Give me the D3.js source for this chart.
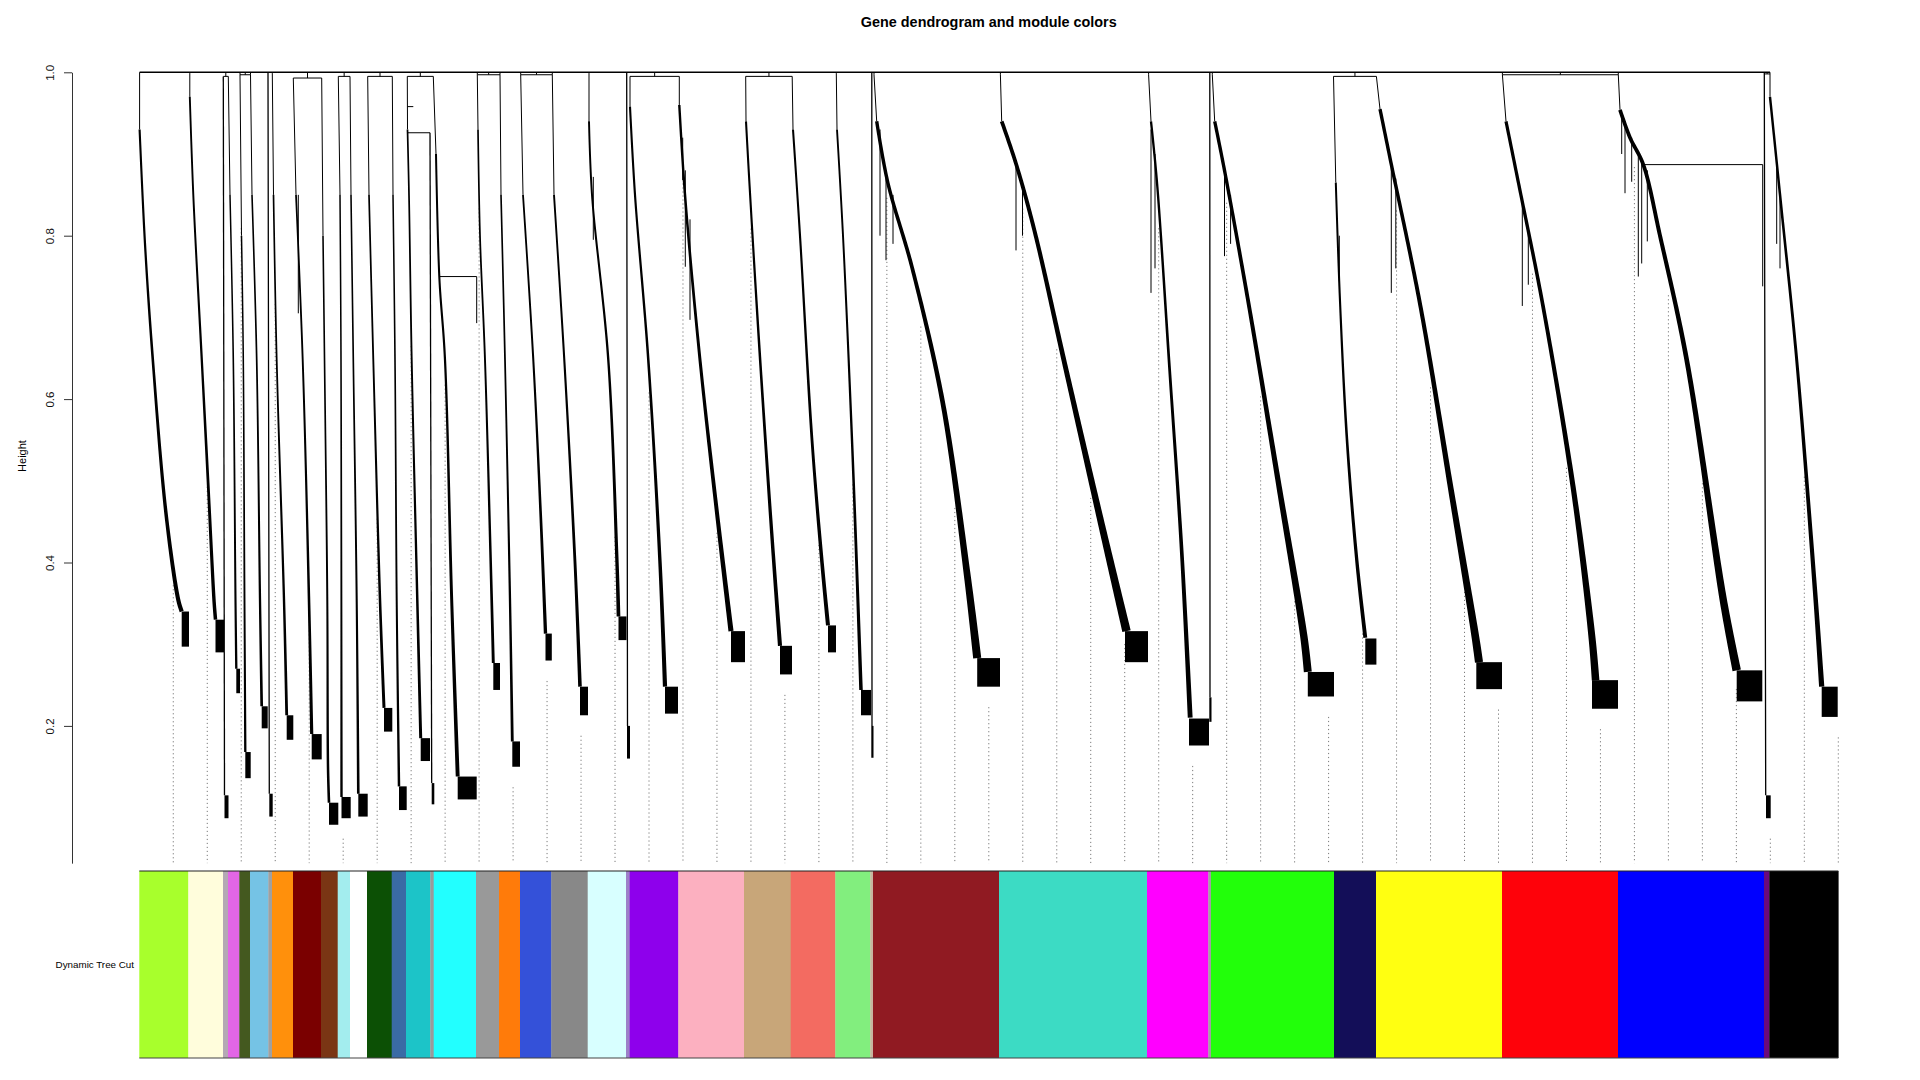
<!DOCTYPE html>
<html><head><meta charset="utf-8">
<script src="https://cdn.jsdelivr.net/npm/d3@7"></script>
<style>html,body{margin:0;padding:0;background:#fff;}svg{display:block;}</style>
</head><body>
<svg id="chart" width="1920" height="1080"></svg>
<script>
// ---------------- DATA (leaf positions in dendrogram order units 0..1699, heights 0..1) ----------------
const moduleNames = ["greenyellow","lightyellow","grey","violet","darkolivegreen","skyblue","grey","darkorange","darkred","saddlebrown",
  "paleturquoise","white","darkgreen","steelblue","darkturquoise","grey","cyan","grey60","orange","royalblue",
  "darkgrey","lightcyan","grey","purple","pink","tan","salmon","lightgreen","grey","brown",
  "turquoise","magenta","grey","green","midnightblue","yellow","red","blue","darkmagenta","black"];
const moduleColors = ["#A8FF2C","#FFFDDC","#B4A8B4","#E266E6","#44591F","#75C3E5","#A0A0A0","#FF900C","#7A0000","#7A3514",
  "#A3EDEE","#FFFFFF","#0C5005","#3A6BA5","#1CC4C8","#9A9A9A","#22FFFF","#999999","#FF7B0A","#3451D9",
  "#888888","#D8FFFF","#9C80C8","#8E00EC","#FCB0C0","#C8A679","#F36B61","#82EE7E","#C8B4A0","#901A22",
  "#3CDBC4","#FF00FF","#A0A0A0","#22FF0A","#130E58","#FFFF11","#FE020A","#0000FF","#6C0A7C","#000000"];
const moduleSizes = [49,34.7,5,11.3,10.7,18.3,3.7,21,28,16.7,
  12.3,17,24.7,14.3,24.3,3.4,42.3,23,21,31.3,
  36.4,38.3,3.7,48.6,65.7,46.7,44.6,35,2.7,126,
  148,61.3,2.7,123,42,126,116,146,5.3,69];

// Branch of each module: [leaf position, merge height] from its join down to its dense core
const branchPaths = [
  [[0.3,1.0],[0.3,0.93],[5.7,0.79],[13.4,0.65],[26.7,0.46],[39,0.354],[42.4,0.34]],
  [[50.5,0.999],[50.5,0.97],[54,0.85],[62.4,0.65],[68.7,0.5],[74.7,0.354],[76.2,0.33]],
  [[84,0.995],[85.2,0.115]],
  [[89,0.995],[90.7,0.85],[94,0.648],[96.2,0.354],[97,0.27]],
  [[100.7,0.997],[102.2,0.8],[104,0.648],[105.2,0.354],[106,0.168]],
  [[111.2,0.997],[112.7,0.85],[117.4,0.648],[120.7,0.354],[122.4,0.224]],
  [[128.7,0.999],[130,0.117]],
  [[133,0.999],[134.2,0.85],[137.4,0.648],[144.7,0.354],[147.4,0.213]],
  [[154,0.993],[156.7,0.85],[163.4,0.648],[169.7,0.354],[172.4,0.19]],
  [[182.4,0.993],[183.7,0.8],[185.7,0.6],[188,0.354],[188.7,0.15],[189.7,0.106]],
  [[199,0.995],[200.7,0.85],[201.7,0.648],[202.2,0.113]],
  [[210.7,0.995],[211.7,0.85],[214,0.648],[217.4,0.354],[219,0.117]],
  [[228.4,0.995],[229.7,0.85],[234,0.648],[240.7,0.354],[244.7,0.222]],
  [[253,0.995],[253.7,0.85],[255.7,0.648],[257.4,0.354],[259.7,0.126]],
  [[268,0.995],[268.2,0.93],[269.7,0.85],[272.4,0.648],[278,0.354],[281.4,0.185]],
  [[290.7,0.926],[292.4,0.13]],
  [[294,0.995],[296.7,0.9],[300,0.75],[305.7,0.648],[312.4,0.354],[318.4,0.138]],
  [[338,0.997],[338.7,0.93],[340.7,0.8],[345.7,0.648],[352.4,0.354],[354,0.277]],
  [[360.7,0.997],[361.7,0.85],[365.7,0.648],[370.7,0.354],[373,0.181]],
  [[381.4,0.997],[383.7,0.85],[394,0.648],[401.7,0.45],[406.2,0.313]],
  [[413,0.997],[414.7,0.85],[425,0.648],[435.7,0.4],[440.7,0.248]],
  [[449.7,0.999],[449.7,0.94],[452.7,0.85],[469,0.648],[477.7,0.4],[479.2,0.334]],
  [[487.4,0.999],[488.2,0.2]],
  [[490.7,0.995],[490.7,0.958],[495.7,0.85],[509,0.648],[520.7,0.4],[525.7,0.248]],
  [[540,0.995],[540,0.96],[545.7,0.85],[560.7,0.648],[578.7,0.45],[591.7,0.316]],
  [[606.4,0.995],[606.7,0.94],[610.1,0.865],[619.7,0.67],[632.2,0.44],[640.7,0.298]],
  [[652.9,0.995],[653.7,0.93],[660.7,0.8],[672.7,0.55],[682.7,0.4],[688.7,0.323]],
  [[697,0.999],[697.7,0.93],[703.7,0.8],[712.7,0.55],[718.7,0.35],[721.7,0.244]],
  [[732.5,0.999],[732.7,0.2]],
  [[734.7,0.997],[737.4,0.94],[748.5,0.865],[773,0.76],[803.7,0.594],[828.1,0.383],[837.9,0.283]],
  [[861.1,0.997],[862.4,0.94],[877,0.887],[895.4,0.805],[926,0.64],[962.7,0.444],[987.2,0.316]],
  [[1009.3,0.997],[1011.7,0.94],[1017.7,0.865],[1030.1,0.64],[1042.4,0.414],[1050.9,0.21]],
  [[1070.5,0.997],[1070.7,0.235]],
  [[1073,0.997],[1075.4,0.94],[1085.2,0.88],[1109.7,0.714],[1140.3,0.489],[1164.7,0.308],[1168.5,0.266]],
  [[1194.2,0.995],[1196.5,0.865],[1200.7,0.72],[1207.7,0.55],[1217.7,0.4],[1226,0.308]],
  [[1237.1,0.995],[1240.7,0.955],[1250.7,0.895],[1281.1,0.714],[1311.7,0.489],[1336.2,0.308],[1339.7,0.278]],
  [[1363.1,0.997],[1366.7,0.94],[1379.1,0.865],[1403.7,0.714],[1434.2,0.489],[1452.7,0.308],[1456.3,0.256]],
  [[1479,0.997],[1480.7,0.954],[1490.7,0.92],[1504,0.887],[1520.7,0.8],[1547.4,0.648],[1584,0.354],[1597.4,0.268]],
  [[1625,0.998],[1626.4,0.115]],
  [[1630.7,0.998],[1630.7,0.97],[1642.4,0.83],[1657.4,0.648],[1676.4,0.354],[1682.4,0.248]]
];
// Dense low-height core of each module: [left pos, right pos, top height, bottom height]
const coreBlocks = [
  [42.4,49.7,0.34,0.297],[76.2,84.7,0.33,0.29],[85.2,89.2,0.115,0.087],[97,100.7,0.27,0.24],[106,111.4,0.168,0.136],
  [122.4,128.4,0.224,0.197],[130,133.4,0.117,0.089],[147.4,154,0.213,0.183],[172.4,182.4,0.19,0.159],[189.7,199,0.106,0.079],
  [202.2,211.4,0.113,0.087],[219,228.4,0.117,0.089],[244.7,253,0.222,0.193],[259.7,267.4,0.126,0.097],[281.4,290.7,0.185,0.157],
  [292.4,295,0.13,0.104],[318.4,337.4,0.138,0.11],[354,360.7,0.277,0.244],[373,380.7,0.181,0.15],[406.2,412.5,0.313,0.28],
  [440.7,448.7,0.248,0.213],[479.2,487.2,0.334,0.305],[487.7,490.7,0.2,0.16],[525.7,538.7,0.248,0.215],[591.7,605.7,0.316,0.278],
  [640.7,652.7,0.298,0.263],[688.7,696.7,0.323,0.29],[721.7,731.7,0.244,0.213],[732,734.2,0.2,0.161],[837.9,860.7,0.283,0.248],
  [985.7,1008.7,0.316,0.278],[1049.7,1069.7,0.209,0.176],[1070,1072.2,0.235,0.205],[1168.5,1194.7,0.266,0.236],[1226,1237.1,0.307,0.275],
  [1337,1362.7,0.278,0.245],[1452.7,1478.7,0.256,0.221],[1597.4,1623,0.268,0.23],[1626.7,1631.4,0.115,0.087],[1682.4,1698.4,0.248,0.211]
];
// Merges joining two branches: [left pos, right pos, height]
const merges = [
  [84,89,0.995],[100.7,111.2,0.997],[154,182.4,0.993],[199,210.7,0.995],[228.4,253,0.995],
  [268,294,0.995],[268,290.7,0.926],[268,274,0.958],[300,337.4,0.75],[338,360.7,0.997],
  [381.4,413,0.997],[490.7,540,0.995],[606.4,652.9,0.995],[1194.2,1237.1,0.995],[1363.1,1479,0.997],
  [1504,1623.4,0.887],[1625,1630.7,0.998]
];
// Short hanging side branches: [pos, top height, bottom height]
const sideBranches = [
  [159,0.85,0.705],[337.4,0.75,0.693],[454,0.872,0.795],[543.4,0.92,0.868],[546,0.88,0.762],[550.7,0.82,0.697],
  [740.7,0.93,0.80],[746.7,0.88,0.77],[753.7,0.85,0.79],[876.7,0.89,0.782],[883.2,0.86,0.80],
  [1011.7,0.93,0.73],[1015.7,0.9,0.76],[1085.2,0.88,0.775],[1091.3,0.85,0.79],[1200,0.8,0.744],
  [1252,0.89,0.73],[1256.5,0.87,0.76],[1383,0.84,0.714],[1389,0.81,0.74],
  [1482.4,0.95,0.9],[1485.7,0.94,0.852],[1492.4,0.92,0.866],[1499,0.9,0.75],[1502.4,0.89,0.766],[1508,0.88,0.793],
  [1623.4,0.887,0.738],[1637.4,0.89,0.79],[1640.7,0.85,0.76]
];
const yTicks = [0.2,0.4,0.6,0.8,1.0];
const heightRange = [0.032, 1.0];
const guideCount = 50;
const titleText = "Gene dendrogram and module colors";
const yLabel = "Height";
const rowLabel = "Dynamic Tree Cut";

// ---------------- DRAWING ----------------
const totalLeaves = d3.sum(moduleSizes);
const svg = d3.select("#chart");
const x = d3.scaleLinear().domain([0, totalLeaves]).range([139.3, 1838.3]);
const y = d3.scaleLinear().domain([0, 1]).range([889.3, 72.3]);
const barTop = 871, barBottom = 1058;
const font = "'Liberation Sans', Arial, Helvetica, sans-serif";

svg.append("rect").attr("width",1920).attr("height",1080).attr("fill","#fff");

// title
svg.append("text").attr("x", (x(0)+x(totalLeaves))/2).attr("y", 26.5)
  .attr("text-anchor","middle").attr("font-family",font).attr("font-weight","bold")
  .attr("font-size",14.4).text(titleText);

// y axis
const yAxisScale = d3.scaleLinear().domain(heightRange).range([y(heightRange[0]), y(heightRange[1])]);
const axisG = svg.append("g").attr("transform","translate(72,0)")
  .call(d3.axisLeft(yAxisScale).tickValues(yTicks).tickSize(8).tickSizeOuter(0).tickFormat(d3.format(".1f")));
axisG.select(".domain").attr("stroke","#333");
axisG.selectAll(".tick line").attr("stroke","#333");
axisG.selectAll(".tick text").attr("x",null).attr("dy",null)
  .attr("transform","translate(-22,0) rotate(-90)").attr("text-anchor","middle")
  .attr("dominant-baseline","central").attr("font-size",11.5).attr("font-family",font).attr("fill","#111");
svg.append("text").attr("transform","translate(22,456) rotate(-90)").attr("text-anchor","middle")
  .attr("dominant-baseline","central").attr("font-family",font).attr("font-size",11).text(yLabel);

// guides (dotted)
const lineGen = d3.line().x(d => x(d[0])).y(d => y(d[1]));
function lowestAt(p){
  let h = Infinity;
  coreBlocks.forEach(c => { if (p >= c[0] && p <= c[1]) h = Math.min(h, c[3]); });
  branchPaths.forEach(bp => {
    for (let i=0;i<bp.length-1;i++){
      const a=bp[i], b=bp[i+1];
      if (b[0]-a[0] > 0.5 && p>=a[0] && p<=b[0]) h = Math.min(h, a[1] + (b[1]-a[1])*(p-a[0])/(b[0]-a[0]));
    }
  });
  return h;
}
const guideG = svg.append("g");
for (let k=1;k<=guideCount;k++){
  const p = totalLeaves*k/guideCount;
  let h = lowestAt(p);
  if (!isFinite(h)) h = lowestAt(p-1.5);
  if (!isFinite(h)) h = 0.3;
  guideG.append("line").attr("x1",x(p)).attr("x2",x(p)).attr("y1",y(h-0.025)).attr("y2",y(heightRange[0]))
    .attr("stroke","#7a7a7a").attr("stroke-width",1).attr("stroke-dasharray","1.2,2.8");
}

// dendrogram
const dg = svg.append("g").attr("fill","none").attr("stroke","#000");
const topL = branchPaths[0][0][0], topR = branchPaths[branchPaths.length-1][0][0];
dg.append("line").attr("x1",x(topL)).attr("x2",x(topR)).attr("y1",y(1)).attr("y2",y(1)).attr("stroke-width",1.4);
merges.forEach(m => {
  dg.append("line").attr("x1",x(m[0])).attr("x2",x(m[1])).attr("y1",y(m[2])).attr("y2",y(m[2])).attr("stroke-width",1);
  if (m[2] >= 0.99) {
    const mid = (m[0]+m[1])/2;
    dg.append("line").attr("x1",x(mid)).attr("x2",x(mid)).attr("y1",y(1)).attr("y2",y(m[2])).attr("stroke-width",1);
  }
});
sideBranches.forEach(s => {
  dg.append("line").attr("x1",x(s[0])).attr("x2",x(s[0])).attr("y1",y(s[1])).attr("y2",y(s[2])).attr("stroke-width",1);
});
const curveGen = d3.line().x(d => x(d[0])).y(d => y(d[1])).curve(d3.curveCatmullRom.alpha(0.5));
branchPaths.forEach((bp,i) => {
  const lead = bp[0][1] >= 0.997 ? [[bp[0][0],1.0]] : [];
  if (bp.length <= 2) {
    dg.append("path").attr("d", lineGen(lead.concat(bp))).attr("stroke-width",1.3);
    return;
  }
  dg.append("path").attr("d", lineGen(lead.concat(bp.slice(0,2)))).attr("stroke-width",1);
  // tapered band following the branch
  const w0 = 1.3 + moduleSizes[i]/60, w1 = Math.min(8.5, 1.8 + moduleSizes[i]/20);
  const tmp = svg.append("path").attr("d", curveGen(bp.slice(1))).attr("fill","none");
  const node = tmp.node(), L = node.getTotalLength();
  const n = Math.max(24, Math.ceil(L/3));
  const left = [], right = [];
  for (let j=0;j<=n;j++){
    const s = L*j/n, p = node.getPointAtLength(s);
    const pa = node.getPointAtLength(Math.max(0,s-0.6)), pb = node.getPointAtLength(Math.min(L,s+0.6));
    let dx = pb.x-pa.x, dy = pb.y-pa.y; const len = Math.hypot(dx,dy)||1; dx/=len; dy/=len;
    const t = j/n, hw = (w0 + (w1-w0)*t*t)/2;
    left.push([p.x - dy*hw, p.y + dx*hw]); right.push([p.x + dy*hw, p.y - dx*hw]);
  }
  tmp.remove();
  dg.append("path").attr("d", d3.line()(left.concat(right.reverse())) + "Z").attr("fill","#000").attr("stroke","none");
});
svg.append("g").selectAll("rect").data(coreBlocks).join("rect")
  .attr("x",d=>x(d[0])).attr("width",d=>x(d[1])-x(d[0]))
  .attr("y",d=>y(d[2])).attr("height",d=>y(d[3])-y(d[2])).attr("fill","#000");

// colour bar
const starts = []; let acc = 0;
moduleSizes.forEach(s => { starts.push(acc); acc += s; });
svg.append("g").selectAll("rect").data(moduleSizes).join("rect")
  .attr("x",(d,i)=>x(starts[i])).attr("width",(d,i)=>x(starts[i]+d)-x(starts[i])+0.3)
  .attr("y",barTop).attr("height",barBottom-barTop).attr("fill",(d,i)=>moduleColors[i]);
svg.append("line").attr("x1",x(0)).attr("x2",x(totalLeaves)).attr("y1",barTop).attr("y2",barTop).attr("stroke","#222").attr("stroke-width",1.2);
svg.append("line").attr("x1",x(0)).attr("x2",x(totalLeaves)).attr("y1",barBottom).attr("y2",barBottom).attr("stroke","#444").attr("stroke-width",1.2);
svg.append("text").attr("x",134).attr("y",(barTop+barBottom)/2).attr("text-anchor","end")
  .attr("dominant-baseline","central").attr("font-family",font).attr("font-size",9.8).text(rowLabel);
</script>
</body></html>
